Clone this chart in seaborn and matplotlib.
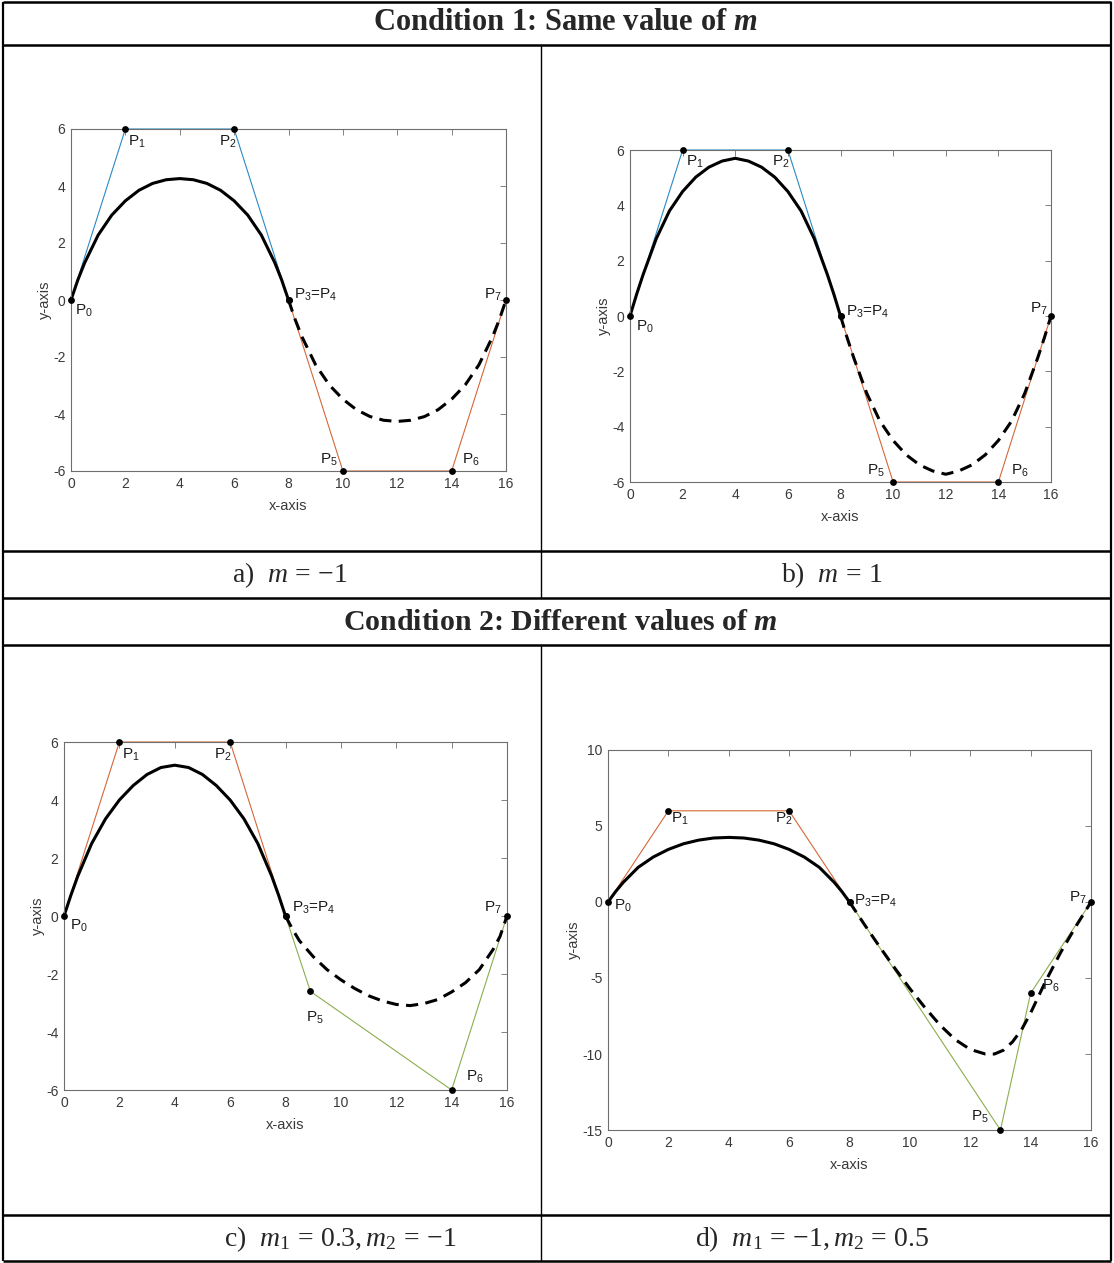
import matplotlib
matplotlib.use("Agg")
import matplotlib.pyplot as plt
import seaborn as sns
import pandas as pd
from matplotlib.lines import Line2D

# ---------------- data ----------------
poly1_x = [0, 2, 6, 8]
poly1_y = [0, 6, 6, 0]

poly2_x_ab = [8, 10, 14, 16]
poly2_y_ab = [0, -6, -6, 0]
poly2_x_c = [8, 8.9, 14, 16]
poly2_y_c = [0, -2.6, -6, 0]
poly2_x_d = [8, 13, 14, 16]
poly2_y_d = [0, -15, -6, 0]

curve1_x = [0, 0.25, 0.5, 1, 1.5, 2, 2.5, 3, 3.5, 4, 4.5, 5, 5.5, 6, 6.5, 7, 7.5, 7.75, 8]
curve1_y_a = [0, 0.70, 1.30, 2.28, 2.98, 3.48, 3.85, 4.09, 4.22, 4.26, 4.22, 4.09, 3.85, 3.48, 2.98, 2.28, 1.30, 0.70, 0]
curve1_y_b = [0, 0.78, 1.50, 2.80, 3.80, 4.50, 5.02, 5.38, 5.60, 5.70, 5.60, 5.38, 5.02, 4.50, 3.80, 2.80, 1.50, 0.78, 0]
curve1_y_c = [0, 0.72, 1.38, 2.50, 3.35, 4.00, 4.50, 4.88, 5.12, 5.20, 5.12, 4.88, 4.50, 4.00, 3.35, 2.50, 1.38, 0.72, 0]
curve1_y_d = [0, 0.68, 1.28, 2.28, 2.96, 3.46, 3.83, 4.07, 4.21, 4.25, 4.21, 4.07, 3.83, 3.46, 2.96, 2.28, 1.28, 0.68, 0]

curve2_x_ab = [8, 8.25, 8.5, 9, 9.5, 10, 10.5, 11, 11.5, 12, 12.5, 13, 13.5, 14, 14.5, 15, 15.5, 15.75, 16]
curve2_y_a = [0, -0.70, -1.30, -2.28, -2.98, -3.48, -3.85, -4.09, -4.22, -4.26, -4.22, -4.09, -3.85, -3.48, -2.98, -2.28, -1.30, -0.70, 0]
curve2_y_b = [0, -0.78, -1.50, -2.80, -3.80, -4.50, -5.02, -5.38, -5.60, -5.72, -5.60, -5.38, -5.02, -4.50, -3.80, -2.80, -1.50, -0.78, 0]
curve2_x_c = [8, 8.25, 8.5, 9, 9.5, 10, 10.5, 11, 11.5, 12, 12.5, 13, 13.5, 14, 14.5, 15, 15.5, 15.75, 16]
curve2_y_c = [0, -0.45, -0.85, -1.40, -1.85, -2.20, -2.50, -2.75, -2.93, -3.05, -3.09, -3.02, -2.88, -2.62, -2.30, -1.85, -1.15, -0.70, 0]
curve2_x_d = [8, 8.5, 9, 9.5, 10, 10.5, 11, 11.5, 12, 12.5, 12.8, 13.1, 13.4, 13.7, 14, 14.5, 15, 15.5, 16]
curve2_y_d = [0, -1.5, -2.95, -4.35, -5.7, -6.95, -8.1, -9.05, -9.7, -10.0, -10.0, -9.75, -9.2, -8.4, -7.3, -5.2, -3.3, -1.6, 0]

xticks_all = [0, 2, 4, 6, 8, 10, 12, 14, 16]
yticks_abc = [-6, -4, -2, 0, 2, 4, 6]
yticks_d = [-15, -10, -5, 0, 5, 10]

point_names = [r"$\mathsf{P_0}$", r"$\mathsf{P_1}$", r"$\mathsf{P_2}$",
               r"$\mathsf{P_3}$=$\mathsf{P_4}$", r"$\mathsf{P_5}$", r"$\mathsf{P_6}$", r"$\mathsf{P_7}$"]

title1 = r"Condition 1: Same value of $\mathbfit{m}$"
title2 = r"Condition 2: Different values of $\mathbfit{m}$"
cap_a = r"a)  $m\,=\,{-1}$"
cap_b = r"b)  $m\,=\,1$"
cap_c = r"c)  $m_1\,=\,0.3, m_2\,=\,{-1}$"
cap_d = r"d)  $m_1\,=\,{-1}, m_2\,=\,0.5$"

# ---------------- style ----------------
sns.set_style("white")
plt.rcParams["font.family"] = ["Liberation Sans", "DejaVu Sans"]
plt.rcParams["axes.unicode_minus"] = False
plt.rcParams["mathtext.fontset"] = "custom"
plt.rcParams["mathtext.rm"] = "Liberation Serif"
plt.rcParams["mathtext.it"] = "Liberation Serif:italic"
plt.rcParams["mathtext.bf"] = "Liberation Serif:bold"
plt.rcParams["mathtext.bfit"] = "Liberation Serif:bold:italic"
plt.rcParams["mathtext.sf"] = "Liberation Sans"

W, H = 1114, 1263
fig = plt.figure(figsize=(W / 100, H / 100), dpi=100)
fig.patch.set_facecolor("white")

def fx(px):
    return px / W

def fy(py):
    return 1 - py / H

def axes_px(x0, x1, y0, y1):
    return fig.add_axes([fx(x0), fy(y1), (x1 - x0) / W, (y1 - y0) / H])

BLUE = "#2a8ac4"
ORANGE = "#d4683a"
GREEN = "#8aae4f"
SPINE = "#6e6e6e"
TXT = "#3a3a3a"

# label placement: (dx, dy, ha, va) in pixels
offs_a = [(4, -3, "left", "top"), (3, -5, "left", "top"), (3, -5, "right", "top"),
          (5, 5, "left", "center"), (-5, 3, "right", "bottom"), (10, 3, "left", "bottom"),
          (-4, 5, "right", "center")]
offs_b = [(6, -3, "left", "top"), (3, -4, "left", "top"), (2, -4, "right", "top"),
          (6, 4, "left", "center"), (-8, 3, "right", "bottom"), (13, 3, "left", "bottom"),
          (-3, 7, "right", "center")]
offs_c = [(6, -2, "left", "top"), (3, -5, "left", "top"), (2, -5, "right", "top"),
          (6, 8, "left", "center"), (-4, -18, "left", "top"), (14, 5, "left", "bottom"),
          (-5, 8, "right", "center")]
offs_d = [(6, -4, "left", "center"), (3, -8, "left", "center"), (4, -8, "right", "center"),
          (5, 1, "left", "center"), (-12, 5, "right", "bottom"), (11, 7, "left", "center"),
          (-4, 4, "right", "center")]

panels = [
    dict(box=(71, 506, 129, 471), p2x=poly2_x_ab, p2y=poly2_y_ab, c1y=curve1_y_a,
         c2x=curve2_x_ab, c2y=curve2_y_a, col1=BLUE, col2=ORANGE, ylim=(-6, 6),
         yt=yticks_abc, offs=offs_a),
    dict(box=(630, 1051, 150, 482), p2x=poly2_x_ab, p2y=poly2_y_ab, c1y=curve1_y_b,
         c2x=curve2_x_ab, c2y=curve2_y_b, col1=BLUE, col2=ORANGE, ylim=(-6, 6),
         yt=yticks_abc, offs=offs_b),
    dict(box=(64, 507, 742, 1090), p2x=poly2_x_c, p2y=poly2_y_c, c1y=curve1_y_c,
         c2x=curve2_x_c, c2y=curve2_y_c, col1=ORANGE, col2=GREEN, ylim=(-6, 6),
         yt=yticks_abc, offs=offs_c),
    dict(box=(608, 1091, 750, 1130), p2x=poly2_x_d, p2y=poly2_y_d, c1y=curve1_y_d,
         c2x=curve2_x_d, c2y=curve2_y_d, col1=ORANGE, col2=GREEN, ylim=(-15, 10),
         yt=yticks_d, offs=offs_d),
]

for p in panels:
    ax = axes_px(*p["box"])
    sns.lineplot(x=poly1_x, y=poly1_y, sort=False, ax=ax, color=p["col1"], lw=0.8)
    sns.lineplot(x=p["p2x"], y=p["p2y"], sort=False, ax=ax, color=p["col2"], lw=0.8)
    sns.lineplot(x=curve1_x, y=p["c1y"], sort=False, ax=ax, color="black", lw=2.2)
    sns.lineplot(x=p["c2x"], y=p["c2y"], sort=False, ax=ax, color="black", lw=2.2,
                 linestyle=(0, (4, 2.4)))
    px = poly1_x + p["p2x"][1:]
    py = poly1_y + p["p2y"][1:]
    pts = pd.DataFrame({"x": poly1_x + p["p2x"], "y": poly1_y + p["p2y"]})
    sns.scatterplot(data=pts, x="x", y="y", ax=ax, color="black", s=24, linewidth=0, zorder=5)
    for art in ax.lines + ax.collections:
        art.set_clip_on(False)
    for name, xx, yy, (dx, dy, ha, va) in zip(point_names, px, py, p["offs"]):
        ax.annotate(name, xy=(xx, yy), xytext=(dx, dy), textcoords="offset pixels",
                    ha=ha, va=va, fontsize=11, color="#1a1a1a")
    ax.set_xlim(0, 16)
    ax.set_ylim(*p["ylim"])
    ax.set_xticks(xticks_all)
    ax.set_yticks(p["yt"])
    ax.tick_params(direction="in", length=4, width=0.6, top=True, right=True,
                   colors=SPINE, labelcolor=TXT, labelsize=10, pad=4)
    for s in ax.spines.values():
        s.set_color(SPINE)
        s.set_linewidth(0.8)
        s.set_visible(True)
    ax.set_xlabel("x-axis", fontsize=10.5, color=TXT, labelpad=6)
    ax.set_ylabel("y-axis", fontsize=10.5, color=TXT, labelpad=1)

# ---------------- table frame ----------------
def hline(y, lw=1.8, x0=3, x1=1111):
    fig.add_artist(Line2D([fx(x0), fx(x1)], [fy(y), fy(y)], transform=fig.transFigure,
                          color="black", lw=lw, solid_capstyle="butt"))

def vline(x, y0, y1, lw=1.0):
    fig.add_artist(Line2D([fx(x), fx(x)], [fy(y0), fy(y1)], transform=fig.transFigure,
                          color="black", lw=lw, solid_capstyle="butt"))

for y in [2, 45, 551, 598, 645, 1215, 1261]:
    hline(y)
vline(3, 2, 1261, lw=1.6)
vline(1111, 2, 1261, lw=1.6)
vline(541, 45, 598)
vline(541, 645, 1261)

fig.text(fx(565), fy(23), title1, ha="center", va="center", fontsize=22,
         fontweight="bold", family="Liberation Serif")
fig.text(fx(560), fy(622), title2, ha="center", va="center", fontsize=21.5,
         fontweight="bold", family="Liberation Serif")
fig.text(fx(290), fy(575), cap_a, ha="center", va="center", fontsize=20, family="Liberation Serif")
fig.text(fx(832), fy(575), cap_b, ha="center", va="center", fontsize=20, family="Liberation Serif")
fig.text(fx(340), fy(1239), cap_c, ha="center", va="center", fontsize=20, family="Liberation Serif")
fig.text(fx(812), fy(1239), cap_d, ha="center", va="center", fontsize=20, family="Liberation Serif")

fig.savefig("out.png", dpi=100, facecolor="white")
